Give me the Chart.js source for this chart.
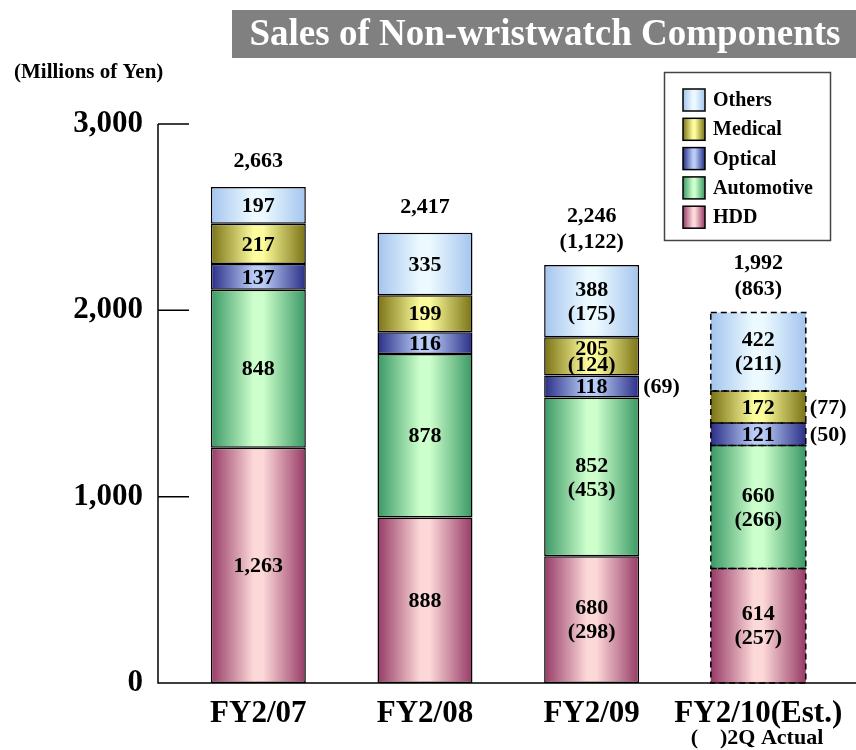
<!DOCTYPE html>
<html>
<head>
<meta charset="utf-8">
<script src="https://cdn.jsdelivr.net/npm/chart.js@4.4.0/dist/chart.umd.min.js"></script>
<style>
  body { margin: 0; background: #fff; }
  canvas { display: block; }
</style>
</head>
<body>
<canvas id="salesChart" width="856" height="750"></canvas>
<script>
// Data (millions of yen)
const years = ['FY2/07', 'FY2/08', 'FY2/09', 'FY2/10(Est.)'];
const hdd = [1263, 888, 680, 614];
const automotive = [848, 878, 852, 660];
const optical = [137, 116, 118, 121];
const medical = [217, 199, 205, 172];
const others = [197, 335, 388, 422];

// ( ) = 2Q actual
const hddQ = [null, null, 298, 257];
const automotiveQ = [null, null, 453, 266];
const opticalQ = [null, null, 69, 50];
const medicalQ = [null, null, 124, 77];
const othersQ = [null, null, 175, 211];

const totals = ['2,663', '2,417', '2,246', '1,992'];
const totalsQ = [null, null, '1,122', '863'];
const estimated = [false, false, false, true];
const yTicks = [0, 1000, 2000, 3000];

const SERIF = '"Liberation Serif", "Times New Roman", serif';
const BAR_PCT = 0.57;

// edge / center colours of the cylinder-like shading
const styles = {
    HDD:        { edge: '#963a66', center: '#fcd8d8' },
    Automotive: { edge: '#3a9865', center: '#ccffcc' },
    Optical:    { edge: '#2a2e86', center: '#b8ccf6' },
    Medical:    { edge: '#7a7216', center: '#fcfc9c' },
    Others:     { edge: '#a4c4ee', center: '#ecfaff' }
};

const makeGradient = (c, x0, x1, st) => {
    const g = c.createLinearGradient(x0, 0, x1, 0);
    g.addColorStop(0, st.edge);
    g.addColorStop(0.45, st.center);
    g.addColorStop(0.55, st.center);
    g.addColorStop(1, st.edge);
    return g;
};

const shade = (name) => (ctx) => {
    const chart = ctx.chart;
    const xs = chart.scales.x;
    if (!xs || ctx.dataIndex === undefined) return styles[name].center;
    const cx = xs.getPixelForValue(ctx.dataIndex);
    const w = (xs.width / years.length) * BAR_PCT;
    if (!isFinite(cx) || !isFinite(w) || w <= 0) return styles[name].center;
    return makeGradient(chart.ctx, cx - w / 2, cx + w / 2, styles[name]);
};

const series = [
    { label: 'HDD', data: hdd, q: hddQ },
    { label: 'Automotive', data: automotive, q: automotiveQ },
    { label: 'Optical', data: optical, q: opticalQ },
    { label: 'Medical', data: medical, q: medicalQ },
    { label: 'Others', data: others, q: othersQ }
];

// Title, unit, legend box, axis lines
const decorPlugin = {
    id: 'decor',
    afterDraw(chart) {
        const c = chart.ctx;
        const ys = chart.scales.y;
        const y0 = ys.getPixelForValue(0);
        c.save();
        // title
        c.fillStyle = '#808080';
        c.fillRect(232, 10, 624, 48);
        c.fillStyle = '#fff';
        c.font = 'bold 37px ' + SERIF;
        c.textAlign = 'center';
        c.textBaseline = 'middle';
        c.fillText('Sales of Non-wristwatch Components', 545, 35);
        // unit
        c.fillStyle = '#000';
        c.font = 'bold 21px ' + SERIF;
        c.textAlign = 'left';
        c.fillText('(Millions of Yen)', 14, 73);

        // axes
        c.strokeStyle = '#000';
        c.lineWidth = 1.5;
        c.beginPath();
        c.moveTo(158, ys.getPixelForValue(3000));
        c.lineTo(158, y0);
        c.lineTo(856, y0);
        yTicks.forEach(v => {
            if (v === 0) return;
            const y = ys.getPixelForValue(v);
            c.moveTo(158, y);
            c.lineTo(189, y);
        });
        c.stroke();

        // 2Q note under last category
        c.font = 'bold 22px ' + SERIF;
        c.textAlign = 'center';
        c.fillText('(    )2Q Actual', 757, 738);

        // legend
        c.fillStyle = '#fff';
        c.fillRect(664.5, 72.5, 166, 168);
        c.strokeStyle = '#444';
        c.lineWidth = 1.5;
        c.strokeRect(664.5, 72.5, 166, 168);
        const order = series.slice().reverse();
        order.forEach((s, i) => {
            const y = 100 + i * 29.3;
            c.fillStyle = makeGradient(c, 683, 705, styles[s.label]);
            c.fillRect(683, y - 11, 22, 22);
            c.strokeStyle = '#000';
            c.lineWidth = 1.5;
            c.strokeRect(683, y - 11, 22, 22);
            c.fillStyle = '#000';
            c.font = 'bold 20px ' + SERIF;
            c.textAlign = 'left';
            c.fillText(s.label, 713, y + 1);
        });
        c.restore();
    }
};

// Dashed outlines + value labels
const labelPlugin = {
    id: 'valueLabels',
    afterDatasetsDraw(chart) {
        const c = chart.ctx;
        c.save();
        // dashed outlines on the estimate bar
        c.strokeStyle = '#000';
        c.lineWidth = 1.5;
        c.setLineDash([6, 4]);
        series.forEach((s, d) => {
            const meta = chart.getDatasetMeta(d);
            meta.data.forEach((el, j) => {
                if (!estimated[j]) return;
                c.strokeRect(el.x - el.width / 2, el.y, el.width, el.base - el.y);
            });
        });
        c.setLineDash([]);

        c.fillStyle = '#000';
        c.font = 'bold 22px ' + SERIF;
        c.textBaseline = 'middle';
        series.forEach((s, d) => {
            const meta = chart.getDatasetMeta(d);
            meta.data.forEach((el, j) => {
                const h = el.base - el.y;
                const cy = (el.base + el.y) / 2;
                const val = s.data[j].toLocaleString('en-US');
                const q = s.q[j];
                c.textAlign = 'center';
                if (q == null) {
                    c.fillText(val, el.x, cy + 1);
                } else if (h < 35) {
                    c.fillText(val, el.x, cy + 1);
                    c.textAlign = 'left';
                    c.fillText('(' + q + ')', el.x + el.width / 2 + 4, cy + 1);
                } else {
                    const gap = Math.min(24, h * 0.42);
                    c.fillText(val, el.x, cy - gap / 2 + 1);
                    c.fillText('(' + q + ')', el.x, cy + gap / 2 + 1);
                }
            });
        });

        // totals above bars
        const topMeta = chart.getDatasetMeta(series.length - 1);
        topMeta.data.forEach((el, j) => {
            c.textAlign = 'center';
            if (totalsQ[j]) {
                c.fillText('(' + totalsQ[j] + ')', el.x, el.y - 23);
                c.fillText(totals[j], el.x, el.y - 49);
            } else {
                c.fillText(totals[j], el.x, el.y - 26);
            }
        });
        c.restore();
    }
};

new Chart(document.getElementById('salesChart'), {
    type: 'bar',
    data: {
        labels: years,
        datasets: series.map(s => ({
            label: s.label,
            data: s.data,
            backgroundColor: shade(s.label),
            borderColor: '#000',
            borderWidth: (ctx) => estimated[ctx.dataIndex] ? 0 : 1.5,
            borderSkipped: false,
            categoryPercentage: 1,
            barPercentage: BAR_PCT
        }))
    },
    options: {
        responsive: false,
        animation: false,
        layout: { padding: { top: 124, right: 14, left: 0, bottom: 0 } },
        plugins: {
            legend: { display: false },
            tooltip: { enabled: false }
        },
        scales: {
            x: {
                stacked: true,
                grid: { display: false, drawTicks: false },
                border: { display: false },
                ticks: {
                    color: '#000',
                    padding: 12,
                    autoSkip: false,
                    maxRotation: 0,
                    minRotation: 0,
                    font: { family: SERIF, size: 31, weight: 'bold' }
                },
                afterFit: (scale) => { scale.height = 67; }
            },
            y: {
                stacked: true,
                min: 0,
                max: 3000,
                grid: { display: false, drawTicks: false },
                border: { display: false },
                afterFit: (scale) => { scale.width = 175; },
                afterBuildTicks: (scale) => { scale.ticks = yTicks.map(v => ({ value: v })); },
                ticks: {
                    color: '#000',
                    padding: 32,
                    font: { family: SERIF, size: 31, weight: 'bold' },
                    callback: (v) => v.toLocaleString('en-US')
                }
            }
        }
    },
    plugins: [labelPlugin, decorPlugin]
});
</script>
</body>
</html>
